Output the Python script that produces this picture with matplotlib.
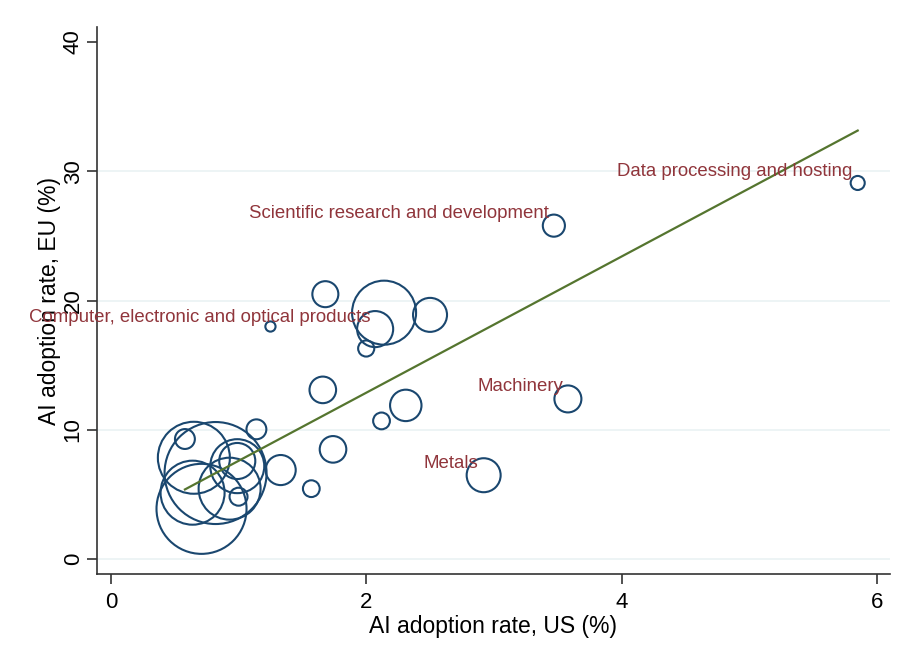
import matplotlib
matplotlib.use("Agg")
import matplotlib.pyplot as plt
import numpy as np

plt.rcParams['font.family'] = ['Liberation Sans', 'DejaVu Sans']

# Data: AI adoption rates by industry (US vs EU), bubble weight ~ area
us_rate = [0.71, 0.64, 0.65, 0.82, 0.58, 1.14, 1.33, 0.99, 0.99, 0.93, 1.00,
           1.57, 1.74, 1.66, 2.12, 2.31, 2.14, 2.07, 2.00, 2.50, 1.68, 1.25,
           3.47, 5.85, 3.58, 2.92]
eu_rate = [3.9, 5.15, 7.85, 6.67, 9.3, 10.05, 6.9, 7.2, 7.6, 5.46, 4.84,
           5.46, 8.5, 13.1, 10.7, 11.9, 19.07, 17.8, 16.3, 18.9, 20.5, 18.0,
           25.8, 29.1, 12.4, 6.5]
weight = [77.9, 39.4, 49.8, 100.0, 3.8, 3.8, 8.7, 28.0, 12.5, 36.9, 3.1,
          2.7, 6.8, 6.8, 2.7, 9.5, 39.4, 12.5, 2.5, 11.1, 6.5, 1.0,
          4.7, 1.9, 7.0, 11.1]
labels = {17: "Computer, electronic and optical products",
          22: "Scientific research and development",
          23: "Data processing and hosting",
          24: "Machinery",
          25: "Metals"}
fit_intercept = 2.346
fit_slope = 5.266

xticks = [0, 2, 4, 6]
yticks = [0, 10, 20, 30, 40]

navy = '#1a476f'
maroon = '#90353b'
green = '#55752f'

fig = plt.figure(figsize=(9.05, 6.62), dpi=100)
ax = fig.add_axes([0.107, 0.1325, 0.876, 0.8267])

x = np.array(us_rate)
y = np.array(eu_rate)
w = np.array(weight)
# max radius ~51 px -> points
rmax_pt = 51 * 0.72
sizes = (2 * rmax_pt * np.sqrt(w / 100.0)) ** 2
ax.scatter(x, y, s=sizes, facecolors='none', edgecolors=navy, linewidths=1.5, zorder=3)

xx = np.array([x.min(), x.max()])
ax.plot(xx, fit_intercept + fit_slope * xx, color=green, lw=1.6, zorder=4)

for i, txt in labels.items():
    ax.annotate(txt, (x[i], y[i]), xytext=(-3.6, 8.6), textcoords='offset points',
                ha='right', va='center', color=maroon, fontsize=13.4, zorder=5)

ax.set_xlim(-0.11, 6.1)
ax.set_ylim(-1.16, 41.16)
ax.set_xticks(xticks)
ax.set_yticks(yticks)
for t in [0, 10, 20, 30]:
    ax.axhline(t, color='#eaf2f3', lw=1.2, zorder=0)

for s in ['top', 'right']:
    ax.spines[s].set_visible(False)
for s in ['left', 'bottom']:
    ax.spines[s].set_color('#333333')
    ax.spines[s].set_linewidth(1.2)

ax.tick_params(axis='both', direction='out', length=7, width=1.2, color='#333333',
               labelsize=16)
ax.tick_params(axis='x', pad=5.5)
ax.tick_params(axis='y', pad=2.5)
plt.setp(ax.get_yticklabels(), rotation=90, va='center')

ax.set_xlabel("AI adoption rate, US (%)", fontsize=16.5, labelpad=2)
ax.set_ylabel("AI adoption rate, EU (%)", fontsize=16.5, labelpad=1)

fig.savefig("out.png", dpi=100)
